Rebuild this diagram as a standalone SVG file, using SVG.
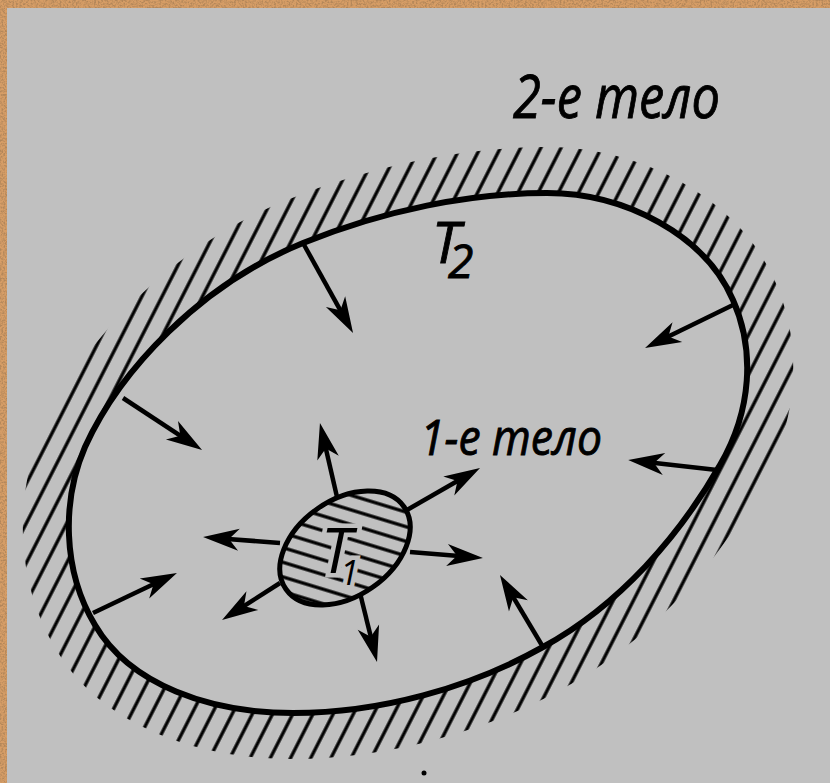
<svg xmlns="http://www.w3.org/2000/svg" width="830" height="783" viewBox="0 0 830 783">
  <style>
    .lbl { font-family: "Open Sans", "DejaVu Sans", sans-serif; font-style: italic; fill: #000; stroke: #000; stroke-width: 0.9; }
    .arrow { stroke: #000; stroke-width: 4.5; fill: none; marker-end: url(#ah); }
    .contour { fill: none; stroke: #000; stroke-width: 6; stroke-linejoin: round; }
  </style>
  <defs>
    <path id="outerPath" d="M 547,193 C 625,193 705,235 733,300 C 755,350 752,410 720,465 C 680,535 620,605 543,647 C 470,688 380,713 293,713 C 210,713 130,685 95,625 C 62,570 62,500 85,447 C 120,370 200,285 303,243 C 385,210 470,193 547,193 Z"/>
    <pattern id="hatchOuter" patternUnits="userSpaceOnUse" width="18" height="20" patternTransform="rotate(27)">
      <line x1="9" y1="-1" x2="9" y2="21" stroke="#000" stroke-width="3.3"/>
    </pattern>
    <pattern id="hatchInner" patternUnits="userSpaceOnUse" width="20" height="14" patternTransform="rotate(17)">
      <line x1="-1" y1="7" x2="21" y2="7" stroke="#000" stroke-width="3.3"/>
    </pattern>
    <mask id="bandMask" maskUnits="userSpaceOnUse" x="0" y="0" width="830" height="783">
      <use href="#outerPath" fill="none" stroke="#fff" stroke-width="92" stroke-linejoin="round"/>
      <use href="#outerPath" fill="#000"/>
    </mask>
    <clipPath id="innerClip">
      <ellipse cx="0" cy="0" rx="72" ry="48" transform="translate(345,548) rotate(-35)"/>
    </clipPath>
    <marker id="ah" viewBox="-20 -13 40 26" refX="0" refY="0" markerWidth="40" markerHeight="26" markerUnits="userSpaceOnUse" orient="auto">
      <path d="M18,0 L-18,-11 L-8,0 L-18,11 Z" fill="#000"/>
    </marker>
    <filter id="tex" x="0" y="0" width="100%" height="100%">
      <feTurbulence type="fractalNoise" baseFrequency="0.55" numOctaves="2" seed="4" result="n"/>
      <feColorMatrix in="n" type="matrix" values="0 0 0 0 0.45  0 0 0 0 0.24  0 0 0 0 0.1  0 0 0 3 -1.2"/>
    </filter>
  </defs>

  <!-- frame and background -->
  <rect x="0" y="0" width="830" height="783" fill="#d69d66"/>
  <rect x="0" y="0" width="830" height="783" filter="url(#tex)"/>
  <rect x="7" y="8" width="823" height="775" fill="#c0c0c0"/>

  <!-- 2nd body: outer contour with hatching -->
  <g id="body2">
    <rect x="0" y="0" width="830" height="783" fill="url(#hatchOuter)" mask="url(#bandMask)"/>
    <use href="#outerPath" class="contour"/>
  </g>

  <!-- 1st body: small hatched ellipse -->
  <g id="body1">
    <rect x="260" y="480" width="170" height="140" fill="url(#hatchInner)" clip-path="url(#innerClip)"/>
    <ellipse cx="0" cy="0" rx="72" ry="48" transform="translate(345,548) rotate(-35)" fill="none" stroke="#000" stroke-width="5"/>
    <g id="labelT1">
      <text x="321" y="573" class="lbl" font-size="62" style="stroke:#c0c0c0;stroke-width:9;paint-order:stroke">T<tspan dx="-12" dy="12" font-size="34">1</tspan></text>
    </g>
  </g>

  <!-- connectors -->
  <g id="connectors">
    <line class="arrow" x1="303" y1="243" x2="344.3" y2="317.3"/>
    <line class="arrow" x1="123" y1="398" x2="187" y2="440.1"/>
    <line class="arrow" x1="733" y1="305" x2="661.2" y2="340.1"/>
    <line class="arrow" x1="717" y1="470" x2="646.1" y2="462"/>
    <line class="arrow" x1="543" y1="647" x2="509.2" y2="590.4"/>
    <line class="arrow" x1="93" y1="613" x2="160.7" y2="580.7"/>
    <line class="arrow" x1="337" y1="497" x2="324" y2="440.6"/>
    <line class="arrow" x1="407" y1="510" x2="464.4" y2="477"/>
    <line class="arrow" x1="410" y1="552" x2="465" y2="556.5"/>
    <line class="arrow" x1="360" y1="593" x2="372.7" y2="644.5"/>
    <line class="arrow" x1="280" y1="583" x2="237.2" y2="610.3"/>
    <line class="arrow" x1="280" y1="543" x2="221" y2="538.4"/>
  </g>

  <!-- labels -->
  <g id="label2body">
    <text x="513" y="118" class="lbl" font-size="60" textLength="207" lengthAdjust="spacingAndGlyphs">2-е тело</text>
  </g>
  <g id="label1body">
    <text x="420" y="455" class="lbl" font-size="49" textLength="182" lengthAdjust="spacingAndGlyphs">1-е тело</text>
  </g>
  <g id="labelT2">
    <text x="432" y="263" class="lbl" font-size="56">T<tspan dx="-12" dy="15" font-size="46">2</tspan></text>
  </g>
  <circle cx="424" cy="773" r="2.5" fill="#000"/>
</svg>
